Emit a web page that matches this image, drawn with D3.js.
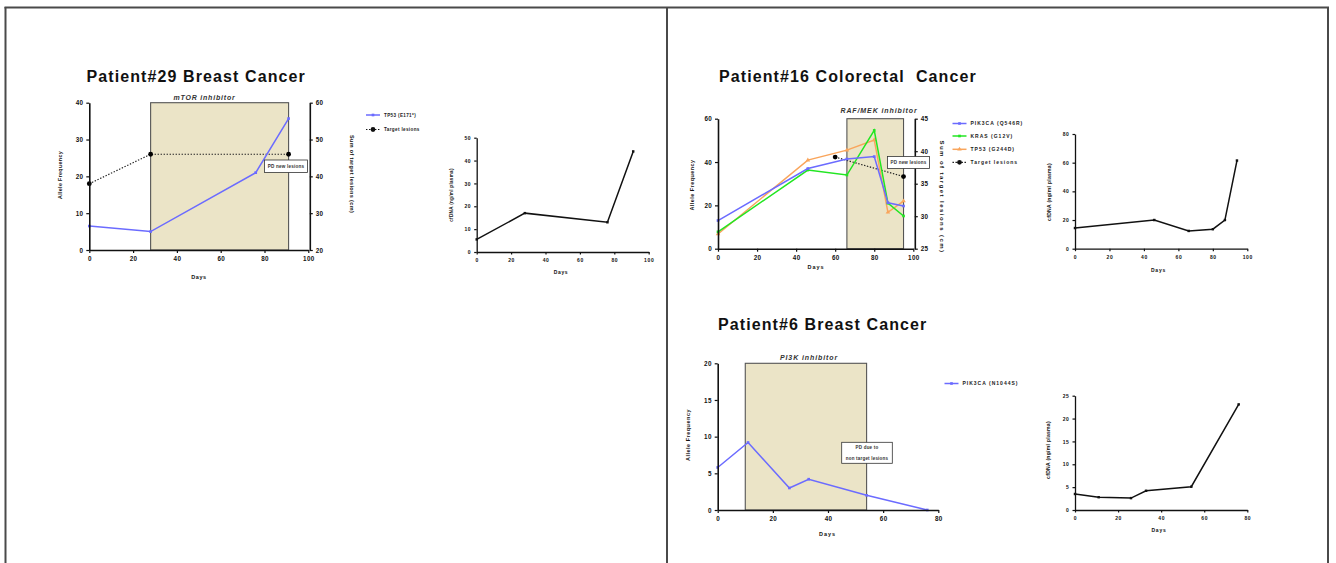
<!DOCTYPE html>
<html><head><meta charset="utf-8">
<script src="https://cdn.jsdelivr.net/npm/d3@7"></script>
<style>
html,body{margin:0;padding:0;background:#fff;}
svg{display:block;font-family:"Liberation Sans",Arial,sans-serif;font-weight:bold;}
</style></head><body>
<script>
// ---------------- DATA ----------------
// Patient #29
const p29Days = [0, 28, 76, 91];
const p29TP53 = [6.5, 5, 21, 35.7];
const p29LesionDays = [0, 28, 91];
const p29Lesions = [38, 46, 46];
const p29cfDays = [0, 28, 76, 91];
const p29cfDNA = [5.5, 17, 13, 44];
const p29XTicks = [0, 20, 40, 60, 80, 100];
const p29YTicks = [0, 10, 20, 30, 40];
const p29Y2Ticks = [20, 30, 40, 50, 60];
const p29cfYTicks = [0, 10, 20, 30, 40, 50];

// Patient #16
const p16Days = [0, 46, 66, 80, 87, 95];
const p16PIK3CA = [13, 37, 41.4, 42.5, 21.2, 19.7];
const p16KRAS = [7.8, 36.3, 34, 54.6, 21, 15.1];
const p16TP53 = [6.8, 40.9, 45.5, 50.2, 16.8, 22];
const p16LesionDays = [60, 95];
const p16Lesions = [39.1, 36.1];
const p16cfDays = [0, 46, 66, 80, 87, 94];
const p16cfDNA = [14.4, 20, 12.4, 13.6, 20, 61.5];
const p16XTicks = [0, 20, 40, 60, 80, 100];
const p16YTicks = [0, 20, 40, 60];
const p16Y2Ticks = [25, 30, 35, 40, 45];
const p16cfYTicks = [0, 20, 40, 60, 80];

// Patient #6
const p6Days = [0, 11, 26, 33, 54, 76];
const p6PIK3CA = [5.8, 9.2, 3, 4.2, 2, 0];
const p6cfDays = [0, 11, 26, 33, 54, 76];
const p6cfDNA = [3.5, 2.8, 2.6, 4.2, 5.1, 23.1];
const p6XTicks = [0, 20, 40, 60, 80];
const p6YTicks = [0, 5, 10, 15, 20];
const p6cfYTicks = [0, 5, 10, 15, 20, 25];

// ---------------- DRAWING ----------------
const FONT = '"Liberation Sans", Arial, sans-serif';
const svg = d3.select("body").append("svg").attr("width", 1336).attr("height", 563);
svg.append("rect").attr("width", 1336).attr("height", 563).attr("fill", "#fff");

// frame lines
const frame = svg.append("g").attr("stroke", "#4a4a4a").attr("stroke-width", 2).attr("fill", "none");
frame.append("line").attr("x1", 4.5).attr("x2", 1329).attr("y1", 7.5).attr("y2", 7.5);
frame.append("line").attr("x1", 5.5).attr("x2", 5.5).attr("y1", 7).attr("y2", 563);
frame.append("line").attr("x1", 667).attr("x2", 667).attr("y1", 7).attr("y2", 563);
frame.append("line").attr("x1", 1328).attr("x2", 1328).attr("y1", 7).attr("y2", 563);

function styleAxis(g, fs, ls) {
  g.attr("font-family", null).attr("font-size", null);
  g.select(".domain").attr("stroke", "#111").attr("stroke-width", 1.6);
  g.selectAll(".tick line").attr("stroke", "#111").attr("stroke-width", 1.2);
  g.selectAll(".tick text").attr("fill", "#111")
    .style("font-size", fs + "px").style("letter-spacing", ls + "px")
    .style("font-family", FONT).style("font-weight", "bold");
}

function txt(x, y, s, o = {}) {
  const t = svg.append("text").attr("x", x).attr("y", y).text(s)
    .style("font-size", (o.fs || 6) + "px")
    .style("letter-spacing", (o.ls || 0) + "px")
    .style("font-family", FONT).style("font-weight", "bold")
    .style("white-space", "pre")
    .attr("fill", o.fill || "#111")
    .attr("text-anchor", o.anchor || "middle");
  if (o.italic) t.style("font-style", "italic");
  if (o.rot) t.attr("transform", `rotate(${o.rot},${x},${y})`);
  return t;
}

const sym = {
  square: d3.symbol().type(d3.symbolSquare).size(7)(),
  circle: d3.symbol().type(d3.symbolCircle).size(16)(),
  triangle: d3.symbol().type(d3.symbolTriangle).size(9)(),
  smallsq: d3.symbol().type(d3.symbolSquare).size(6)()
};

function mainChart(c) {
  const x = d3.scaleLinear().domain(c.xDomain).range(c.xRange);
  const y = d3.scaleLinear().domain(c.yDomain).range(c.yRange);
  const y2 = c.y2Domain ? d3.scaleLinear().domain(c.y2Domain).range(c.yRange) : null;
  const g = svg.append("g");
  // treatment shading
  g.append("rect").attr("x", x(c.shade[0])).attr("y", c.yRange[1])
    .attr("width", x(c.shade[1]) - x(c.shade[0])).attr("height", c.yRange[0] - c.yRange[1])
    .attr("fill", "#ebe4c7").attr("stroke", "#555").attr("stroke-width", 1.1);
  // lesions (right axis)
  if (c.lesions) {
    const pts = c.lesions.days.map((d, i) => [x(d), y2(c.lesions.vals[i])]);
    g.append("path").attr("d", d3.line()(pts)).attr("fill", "none")
      .attr("stroke", "#222").attr("stroke-width", 1.2).attr("stroke-dasharray", "1.4,1.6");
    g.selectAll(null).data(pts).enter().append("circle")
      .attr("cx", d => d[0]).attr("cy", d => d[1]).attr("r", 2.4).attr("fill", "#000");
  }
  // series
  c.series.forEach(s => {
    const pts = s.days.map((d, i) => [x(d), y(s.vals[i])]);
    g.append("path").attr("d", d3.line()(pts)).attr("fill", "none")
      .attr("stroke", s.color).attr("stroke-width", 1.5);
    g.selectAll(null).data(pts).enter().append("path")
      .attr("d", sym[s.sym]).attr("transform", d => `translate(${d[0]},${d[1]})`)
      .attr("fill", s.color);
  });
  // axes
  const ax = g.append("g").attr("transform", `translate(0,${c.yRange[0]})`)
    .call(d3.axisBottom(x).tickValues(c.xTicks).tickSize(3).tickSizeOuter(0).tickPadding(4));
  styleAxis(ax, 6.3, 0.3);
  const ay = g.append("g").attr("transform", `translate(${c.xRange[0]},0)`)
    .call(d3.axisLeft(y).tickValues(c.yTicks).tickSize(3).tickSizeOuter(0).tickPadding(3));
  styleAxis(ay, 6.3, 0.3);
  if (y2) {
    const ay2 = g.append("g").attr("transform", `translate(${c.xRange[1] + 1.5},0)`)
      .call(d3.axisRight(y2).tickValues(c.y2Ticks).tickSize(3).tickSizeOuter(0).tickPadding(3));
    styleAxis(ay2, 6.3, 0.3);
  }
  return x;
}

function cfChart(c) {
  const x = d3.scaleLinear().domain(c.xDomain).range(c.xRange);
  const y = d3.scaleLinear().domain(c.yDomain).range(c.yRange);
  const g = svg.append("g");
  const pts = c.days.map((d, i) => [x(d), y(c.vals[i])]);
  g.append("path").attr("d", d3.line()(pts)).attr("fill", "none").attr("stroke", "#111").attr("stroke-width", 1.5);
  g.selectAll(null).data(pts).enter().append("path").attr("d", sym.smallsq)
    .attr("transform", d => `translate(${d[0]},${d[1]})`).attr("fill", "#111");
  const ax = g.append("g").attr("transform", `translate(0,${c.yRange[0]})`)
    .call(d3.axisBottom(x).tickValues(c.xTicks).tickSize(2.5).tickSizeOuter(0).tickPadding(4));
  styleAxis(ax, 5, 0.6);
  ax.select(".domain").attr("stroke-width", 1.3);
  const ay = g.append("g").attr("transform", `translate(${c.xRange[0]},0)`)
    .call(d3.axisLeft(y).tickValues(c.yTicks).tickSize(2.5).tickSizeOuter(0).tickPadding(3));
  styleAxis(ay, 5, 0.6);
  ay.select(".domain").attr("stroke-width", 1.3);
}

function pdBox(x0, y0, w, h, lines, fs) {
  svg.append("rect").attr("x", x0).attr("y", y0).attr("width", w).attr("height", h)
    .attr("fill", "#fff").attr("stroke", "#333").attr("stroke-width", 0.8);
  const step = h / lines.length;
  lines.forEach((l, i) => txt(x0 + w / 2, y0 + step * (i + 0.5) + fs * 0.35, l, { fs: fs, ls: 0.2, fill: "#333" }));
}

function legendRow(x0, y0, label, color, symName, dotted, fs, ls) {
  svg.append("line").attr("x1", x0).attr("x2", x0 + 14).attr("y1", y0).attr("y2", y0)
    .attr("stroke", color).attr("stroke-width", dotted ? 1.2 : 1.5)
    .attr("stroke-dasharray", dotted ? "1.4,1.6" : null);
  if (symName === "circle") {
    svg.append("circle").attr("cx", x0 + 7).attr("cy", y0).attr("r", 2.4).attr("fill", color);
  } else {
    svg.append("path").attr("d", sym[symName]).attr("transform", `translate(${x0 + 7},${y0})`).attr("fill", color);
  }
  txt(x0 + 18, y0 + fs * 0.35, label, { fs: fs, ls: ls, anchor: "start", fill: "#222" });
}

const BLUE = "#6b6bff", GREEN = "#22e622", ORANGE = "#f9a55c";

// ===== Patient #29 =====
txt(86.5, 81.5, "Patient#29 Breast Cancer", { fs: 16, ls: 1.1, anchor: "start" });
mainChart({
  xDomain: [0, 100], xRange: [89.3, 308.3], yDomain: [0, 40], yRange: [250, 102.7], y2Domain: [20, 60],
  xTicks: p29XTicks, yTicks: p29YTicks, y2Ticks: p29Y2Ticks, shade: [28, 91],
  series: [{ days: p29Days, vals: p29TP53, color: BLUE, sym: "square" }],
  lesions: { days: p29LesionDays, vals: p29Lesions }
});
txt(204.5, 99.5, "mTOR inhibitor", { fs: 7, ls: 0.8, italic: true, fill: "#333" });
pdBox(264.5, 160, 43, 12.5, ["PD new lesions"], 4.6);
txt(61.5, 175, "Allele Frequency", { fs: 5.3, ls: 0.35, rot: -90 });
txt(350, 174, "Sum of target lesions (cm)", { fs: 5.5, ls: 0.35, rot: 90 });
txt(199, 279, "Days", { fs: 5.5, ls: 0.6 });
legendRow(366, 115, "TP53 (E171*)", BLUE, "square", false, 4.6, 0.35);
legendRow(366, 129.5, "Target lesions", "#111", "circle", true, 4.6, 0.35);

cfChart({
  xDomain: [0, 100], xRange: [476.7, 648.7], yDomain: [0, 50], yRange: [252, 137.7],
  xTicks: p29XTicks, yTicks: p29cfYTicks, days: p29cfDays, vals: p29cfDNA
});
txt(452.5, 195, "cfDNA (ng/ml plasma)", { fs: 4.6, ls: 0.3, rot: -90 });
txt(561, 274, "Days", { fs: 5, ls: 0.6 });

// ===== Patient #16 =====
txt(719, 81.5, "Patient#16 Colorectal  Cancer", { fs: 16, ls: 1.1, anchor: "start" });
mainChart({
  xDomain: [0, 100], xRange: [718, 913.3], yDomain: [0, 60], yRange: [248.7, 118.7], y2Domain: [25, 45],
  xTicks: p16XTicks, yTicks: p16YTicks, y2Ticks: p16Y2Ticks, shade: [66, 95],
  series: [
    { days: p16Days, vals: p16TP53, color: ORANGE, sym: "triangle" },
    { days: p16Days, vals: p16KRAS, color: GREEN, sym: "square" },
    { days: p16Days, vals: p16PIK3CA, color: BLUE, sym: "square" }
  ],
  lesions: { days: p16LesionDays, vals: p16Lesions }
});
txt(879, 113, "RAF/MEK inhibitor", { fs: 7, ls: 0.9, italic: true, fill: "#333" });
pdBox(887.5, 156.5, 42, 12, ["PD new lesions"], 4.5);
txt(694, 185, "Allele Frequency", { fs: 5.5, ls: 0.45, rot: -90 });
txt(940, 197, "Sum of target lesions (cm)", { fs: 6, ls: 1.45, rot: 90 });
txt(816, 269, "Days", { fs: 5.5, ls: 1 });
legendRow(952.5, 123.5, "PIK3CA (Q546R)", BLUE, "square", false, 5, 1);
legendRow(952.5, 136, "KRAS (G12V)", GREEN, "square", false, 5, 1);
legendRow(952.5, 149.3, "TP53 (G244D)", ORANGE, "triangle", false, 5, 1);
legendRow(952.5, 162.3, "Target lesions", "#111", "circle", true, 5, 1);

cfChart({
  xDomain: [0, 100], xRange: [1075, 1247.3], yDomain: [0, 80], yRange: [248.7, 134],
  xTicks: p16XTicks, yTicks: p16cfYTicks, days: p16cfDays, vals: p16cfDNA
});
txt(1051, 192, "cfDNA (ng/ml plasma)", { fs: 5, ls: 0.3, rot: -90 });
txt(1158.5, 272, "Days", { fs: 5, ls: 0.8 });

// ===== Patient #6 =====
txt(718, 329.5, "Patient#6 Breast Cancer", { fs: 16, ls: 1.1, anchor: "start" });
mainChart({
  xDomain: [0, 80], xRange: [717.7, 938.3], yDomain: [0, 20], yRange: [510, 363.3],
  xTicks: p6XTicks, yTicks: p6YTicks, shade: [10, 54],
  series: [{ days: p6Days, vals: p6PIK3CA, color: BLUE, sym: "square" }]
});
txt(809, 359.5, "PI3K inhibitor", { fs: 7, ls: 0.9, italic: true, fill: "#333" });
pdBox(841.7, 442.3, 50.6, 21, ["PD due to", "non target lesions"], 4.5);
txt(690, 435, "Allele Frequency", { fs: 5.5, ls: 0.5, rot: -90 });
txt(827.5, 536, "Days", { fs: 5.5, ls: 1 });
legendRow(944.5, 383.5, "PIK3CA (N1044S)", BLUE, "square", false, 5, 1);

cfChart({
  xDomain: [0, 80], xRange: [1075, 1247.3], yDomain: [0, 25], yRange: [510, 395.7],
  xTicks: p6XTicks, yTicks: p6cfYTicks, days: p6cfDays, vals: p6cfDNA
});
txt(1050, 450, "cfDNA (ng/ml plasma)", { fs: 5, ls: 0.3, rot: -90 });
txt(1159, 532, "Days", { fs: 5, ls: 0.8 });
</script>
</body></html>
